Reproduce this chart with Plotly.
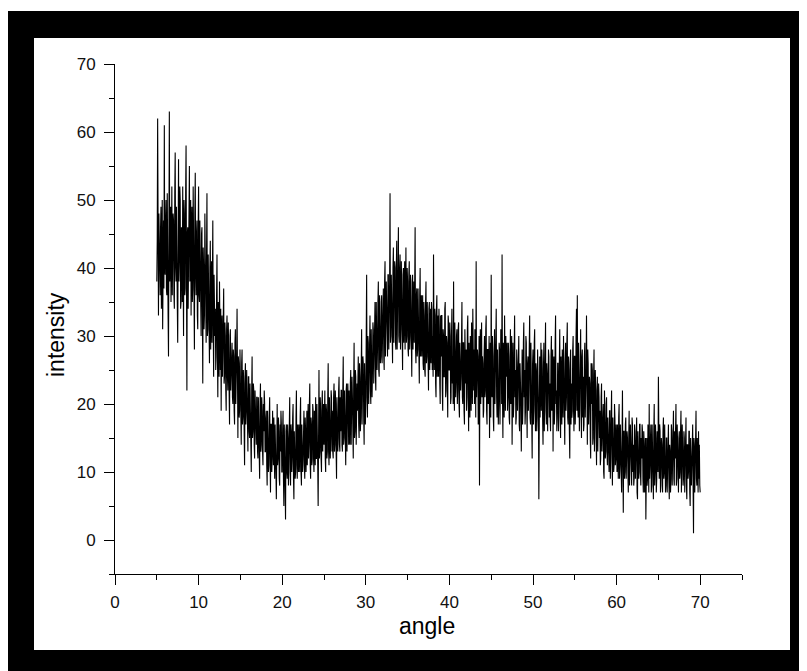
import plotly.graph_objects as go

# scan grid (degrees 2-theta)
ANGLE_START = 5.0
ANGLE_STEP = 0.05

# intensity values, one row per degree (5.00 ... 69.95), then 70.00
intensity = [
    38, 44, 62, 35, 33, 48, 45, 39, 36, 46, 49, 34, 41, 50, 31, 43, 47, 37, 61, 40,
    39, 47, 50, 37, 36, 51, 46, 33, 27, 45, 63, 38, 42, 49, 35, 46, 52, 36, 40, 48,
    47, 36, 34, 51, 57, 40, 38, 49, 45, 35, 29, 47, 56, 38, 41, 52, 50, 34, 35, 46,
    44, 35, 52, 40, 30, 50, 48, 36, 37, 51, 58, 39, 22, 45, 46, 34, 39, 49, 55, 38,
    41, 50, 33, 45, 49, 35, 37, 52, 44, 34, 28, 48, 54, 39, 36, 45, 47, 33, 31, 46,
    52, 36, 35, 47, 42, 33, 30, 45, 46, 34, 23, 43, 40, 31, 33, 48, 44, 35, 29, 42,
    51, 30, 31, 42, 38, 29, 26, 40, 44, 28, 33, 41, 29, 38, 47, 31, 24, 39, 36, 30,
    34, 25, 27, 36, 42, 28, 21, 35, 32, 24, 38, 29, 25, 34, 19, 31, 33, 24, 28, 35,
    37, 23, 24, 32, 30, 22, 19, 31, 33, 24, 22, 32, 28, 21, 17, 30, 31, 22, 25, 29,
    29, 21, 20, 28, 27, 19, 17, 29, 31, 20, 22, 27, 34, 20, 15, 27, 26, 18, 19, 28,
    25, 18, 14, 26, 28, 17, 18, 25, 23, 16, 11, 24, 26, 17, 19, 25, 21, 16, 13, 24,
    24, 16, 15, 23, 20, 14, 10, 22, 27, 15, 16, 23, 22, 14, 12, 22, 19, 15, 14, 21,
    21, 13, 12, 21, 18, 12, 9, 20, 23, 13, 14, 21, 19, 13, 11, 20, 16, 22, 20, 13,
    13, 18, 19, 11, 8, 19, 16, 10, 11, 18, 21, 12, 7, 17, 17, 10, 12, 19, 15, 11,
    18, 10, 9, 17, 15, 10, 6, 17, 20, 11, 12, 18, 16, 9, 8, 17, 13, 19, 17, 10,
    10, 16, 19, 9, 5, 17, 14, 9, 3, 16, 17, 10, 9, 17, 15, 8, 11, 17, 21, 10,
    8, 17, 16, 10, 12, 18, 20, 9, 6, 16, 14, 9, 10, 18, 22, 11, 9, 17, 15, 10,
    17, 11, 10, 18, 21, 10, 8, 17, 15, 10, 12, 18, 19, 11, 9, 18, 16, 10, 13, 19,
    11, 19, 20, 12, 14, 20, 23, 11, 9, 18, 17, 11, 12, 20, 19, 12, 10, 19, 18, 11,
    21, 12, 12, 20, 17, 11, 5, 19, 25, 12, 13, 21, 19, 12, 10, 20, 22, 13, 15, 20,
    14, 21, 22, 12, 10, 20, 19, 12, 13, 21, 26, 13, 11, 21, 18, 12, 15, 22, 21, 13,
    19, 13, 12, 21, 23, 13, 14, 22, 20, 13, 9, 21, 18, 13, 15, 22, 24, 14, 13, 21,
    16, 22, 22, 14, 13, 22, 27, 14, 15, 22, 19, 14, 11, 22, 23, 13, 17, 23, 20, 14,
    22, 15, 14, 23, 25, 14, 17, 24, 21, 16, 12, 23, 29, 15, 16, 25, 24, 14, 18, 23,
    19, 25, 27, 17, 15, 26, 24, 16, 18, 25, 31, 17, 20, 27, 26, 18, 14, 26, 23, 17,
    21, 29, 39, 21, 18, 30, 29, 20, 24, 30, 33, 22, 20, 31, 28, 21, 25, 32, 31, 23,
    26, 34, 35, 24, 22, 35, 31, 25, 28, 35, 38, 25, 24, 36, 33, 26, 27, 35, 36, 26,
    29, 36, 37, 27, 25, 38, 41, 27, 30, 38, 34, 28, 27, 39, 39, 28, 32, 38, 51, 29,
    30, 39, 36, 28, 26, 40, 43, 29, 33, 41, 40, 29, 28, 40, 44, 28, 35, 41, 46, 30,
    29, 40, 42, 28, 31, 41, 37, 28, 25, 39, 40, 29, 33, 41, 28, 39, 43, 29, 30, 40,
    38, 28, 27, 39, 41, 28, 30, 39, 35, 27, 24, 38, 39, 28, 32, 38, 29, 39, 46, 28,
    26, 36, 37, 27, 28, 37, 34, 26, 23, 36, 40, 27, 31, 36, 27, 35, 36, 26, 25, 35,
    33, 25, 24, 35, 38, 26, 27, 35, 31, 25, 22, 34, 35, 25, 29, 34, 26, 35, 34, 25,
    30, 24, 42, 31, 25, 34, 33, 23, 21, 34, 36, 24, 28, 33, 24, 34, 31, 23, 20, 33,
    27, 33, 33, 22, 19, 31, 30, 24, 24, 34, 35, 21, 22, 30, 29, 23, 18, 33, 32, 25,
    25, 32, 30, 20, 21, 30, 34, 23, 27, 20, 38, 24, 19, 32, 28, 21, 23, 30, 31, 20,
    22, 31, 32, 20, 18, 29, 27, 22, 24, 32, 35, 21, 20, 29, 29, 19, 17, 31, 26, 23,
    28, 19, 21, 31, 33, 22, 16, 29, 26, 18, 30, 23, 19, 32, 25, 20, 34, 24, 22, 28,
    20, 31, 29, 18, 41, 21, 23, 28, 27, 17, 18, 30, 8, 26, 31, 20, 24, 32, 21, 27,
    26, 18, 19, 27, 30, 21, 22, 31, 33, 19, 17, 28, 28, 20, 24, 30, 15, 26, 29, 18,
    39, 22, 21, 30, 27, 18, 16, 27, 31, 20, 23, 31, 34, 21, 18, 28, 25, 17, 20, 29,
    28, 17, 22, 31, 30, 20, 42, 21, 15, 29, 26, 18, 33, 23, 19, 30, 24, 27, 29, 19,
    21, 29, 27, 18, 17, 26, 31, 20, 23, 30, 14, 25, 29, 18, 20, 28, 33, 21, 25, 17,
    18, 28, 26, 19, 22, 30, 30, 17, 16, 26, 24, 20, 13, 27, 28, 17, 20, 29, 32, 21,
    25, 17, 19, 30, 29, 20, 15, 26, 27, 19, 22, 28, 33, 18, 17, 29, 24, 21, 12, 26,
    28, 17, 20, 29, 31, 19, 16, 26, 25, 16, 18, 28, 23, 20, 6, 25, 27, 18, 21, 29,
    19, 28, 26, 18, 14, 25, 29, 16, 22, 29, 32, 19, 17, 26, 24, 16, 20, 28, 27, 18,
    23, 18, 16, 27, 30, 19, 21, 28, 13, 25, 27, 17, 19, 29, 33, 20, 22, 16, 18, 26,
    26, 16, 20, 28, 31, 18, 15, 27, 24, 17, 28, 19, 18, 30, 22, 16, 14, 26, 29, 19,
    21, 29, 32, 18, 17, 27, 25, 16, 12, 26, 28, 17, 23, 18, 19, 28, 30, 19, 16, 27,
    27, 17, 20, 30, 34, 19, 36, 20, 18, 29, 25, 16, 22, 30, 31, 19, 15, 27, 28, 18,
    24, 16, 17, 27, 29, 18, 21, 25, 33, 15, 14, 28, 26, 17, 19, 24, 23, 15, 12, 26,
    20, 26, 25, 14, 15, 24, 28, 13, 18, 25, 22, 15, 11, 22, 24, 13, 16, 23, 21, 15,
    19, 11, 12, 21, 23, 13, 15, 19, 20, 10, 9, 22, 17, 12, 13, 20, 21, 13, 11, 18,
    16, 11, 10, 19, 19, 9, 13, 17, 22, 12, 8, 18, 15, 10, 11, 20, 18, 11, 12, 17,
    13, 10, 17, 11, 9, 18, 20, 9, 11, 17, 15, 10, 7, 18, 22, 12, 4, 16, 16, 9,
    10, 17, 18, 9, 12, 16, 15, 10, 7, 15, 19, 8, 11, 17, 14, 9, 8, 18, 17, 10,
    14, 8, 9, 17, 16, 9, 11, 15, 18, 7, 6, 16, 13, 9, 10, 17, 17, 10, 8, 15,
    12, 17, 16, 9, 7, 16, 14, 7, 10, 15, 3, 14, 15, 8, 9, 17, 13, 7, 20, 9,
    11, 15, 17, 7, 8, 17, 14, 9, 6, 16, 20, 8, 10, 17, 15, 7, 9, 16, 13, 10,
    24, 9, 9, 17, 16, 7, 11, 15, 14, 8, 7, 16, 18, 9, 10, 17, 13, 7, 8, 15,
    15, 7, 10, 16, 17, 9, 6, 14, 13, 7, 9, 17, 16, 8, 11, 15, 19, 9, 8, 16,
    12, 16, 20, 8, 9, 17, 14, 7, 7, 15, 16, 9, 10, 16, 19, 7, 11, 17, 13, 8,
    9, 16, 15, 7, 12, 15, 18, 8, 6, 14, 14, 9, 10, 16, 16, 7, 5, 15, 13, 8,
    11, 16, 17, 8, 1, 15, 14, 7, 10, 16, 19, 9, 8, 15, 12, 7, 16, 9, 14, 8,
    7,
]

angle = [round(ANGLE_START + i * ANGLE_STEP, 3) for i in range(len(intensity))]

x_ticks = [0, 10, 20, 30, 40, 50, 60, 70]
y_ticks = [0, 10, 20, 30, 40, 50, 60, 70]
x_title = "angle"
y_title = "intensity"

FONT = "Arial, 'Liberation Sans', sans-serif"

fig = go.Figure(
    go.Scatter(x=angle, y=intensity, mode="lines",
               line=dict(color="black", width=1.1), showlegend=False)
)

# the page body adds an 8px offset; figure coordinates = screen - 8
OFF = 8
W, H = 807, 671
L, T = 115 - OFF, 64 - OFF
pw, ph = 627, 510
R, B = W - L - pw, H - T - ph


def px(xs):
    return (xs - OFF - L) / pw


def py(ys):
    return (T + ph - (ys - OFF)) / ph


shapes = [
    dict(type="rect", xref="paper", yref="paper", layer="below",
         x0=px(8), x1=px(W + 20), y0=py(H + 20), y1=py(11),
         fillcolor="black", line=dict(width=0)),
    dict(type="rect", xref="paper", yref="paper", layer="below",
         x0=px(34), x1=px(790), y0=py(650), y1=py(38),
         fillcolor="white", line=dict(width=0)),
]

axis_common = dict(
    showline=True, linecolor="black", linewidth=1,
    ticks="outside", ticklen=10, tickwidth=1, tickcolor="black",
    showgrid=False, zeroline=False,
    tickfont=dict(family=FONT, size=17, color="#111"),
    minor=dict(ticks="outside", ticklen=5, tickwidth=1, tickcolor="black",
               tick0=0, dtick=5, showgrid=False),
)

fig.update_layout(
    width=W, height=H,
    margin=dict(l=L, r=R, t=T, b=B, pad=0),
    paper_bgcolor="white", plot_bgcolor="white",
    shapes=shapes,
    xaxis=dict(range=[0, 75], tickmode="array", tickvals=x_ticks,
               ticklabelstandoff=3, **axis_common),
    yaxis=dict(range=[-5, 70], tickmode="array", tickvals=y_ticks,
               ticklabelstandoff=5, **axis_common),
    annotations=[
        dict(text=x_title, xref="paper", yref="paper", x=px(427), y=py(626),
             xanchor="center", yanchor="middle", showarrow=False,
             font=dict(family=FONT, size=23, color="black")),
        dict(text=y_title, xref="paper", yref="paper", x=px(56), y=py(335),
             xanchor="center", yanchor="middle", showarrow=False, textangle=-90,
             font=dict(family=FONT, size=23, color="black")),
    ],
)

fig.write_html("out.html")
